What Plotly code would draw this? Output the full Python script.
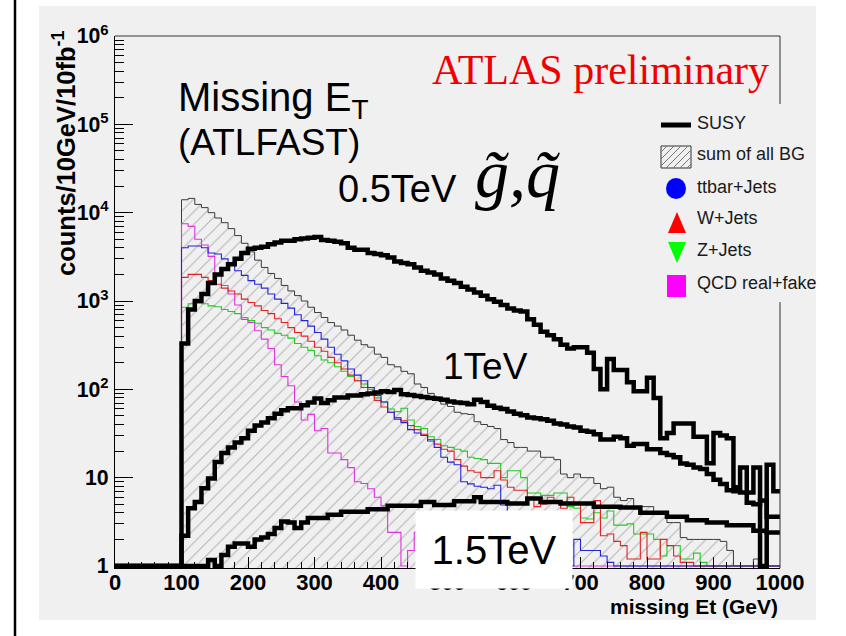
import numpy as np
import plotly.graph_objects as go

# ---------------- data (10 GeV bins, 0..1000 GeV) ----------------
bin_edges = list(range(0, 1001, 10))
x_tick_values = list(range(0, 1001, 100))

susy_05 = [0] * 10 + [
    330, 800, 1000, 1200, 1600, 2000, 2300, 2600, 3000, 3500,
    3900, 4000, 4100, 4400, 4600, 4800, 4800, 5000, 5100, 5200,
    5300, 4900, 4800, 4700, 4500, 4000, 3800, 3800, 3500, 3400,
    3300, 3100, 2800, 2700, 2600, 2400, 2200, 2100, 2000, 1800,
    1700, 1600, 1450, 1350, 1250, 1150, 1050, 980, 900, 820,
    780, 760, 620, 540, 450, 410, 370, 320, 290, 300,
    300, 260, 170, 100, 220, 165, 165, 120, 95, 95,
    135, 80, 28, 32, 41, 41, 41, 29, 29, 14.6,
    32, 30, 28, 7.8, 13, 6.8, 13, 0, 14, 7]

susy_1 = [0] * 10 + [
    2.2, 4.5, 5.3, 7.6, 9.8, 15, 19, 22, 25, 28,
    34, 39, 42, 47, 53, 58, 61, 61, 66, 71,
    79, 70, 75, 81, 81, 85, 85, 88, 90, 92,
    95, 93, 98, 88, 86, 84, 82, 80, 78, 76,
    73, 71, 70, 68, 76, 72, 65, 62, 60, 56,
    53, 51, 48, 47, 46, 44, 41, 40, 38, 37,
    34, 33, 31, 27, 27, 29, 28, 23, 24, 24,
    21, 21, 19, 18, 17, 14.5, 14, 13, 12.5, 11,
    9.5, 8.5, 7.2, 7, 6.8, 5.2, 5.0, 5.5, 3.6, 3.6]

susy_15 = [0] * 10 + [
    0, 0, 0, 0, 1.17, 0, 1.33, 1.65, 1.8, 1.8,
    1.65, 2.0, 2.1, 2.3, 2.7, 3.2, 3.1, 2.7, 3.1, 3.5,
    3.5, 3.5, 3.8, 3.8, 4.1, 4.1, 4.1, 4.1, 4.4, 4.4,
    4.4, 4.8, 4.8, 4.8, 4.8, 4.8, 5.3, 5.3, 4.9, 4.9,
    4.9, 5.4, 5.4, 5.4, 6.0, 5.3, 5.3, 5.3, 5.3, 5.1,
    5.1, 5.1, 5.8, 5.8, 5.3, 5.3, 5.3, 5.1, 5.1, 5.1,
    5.1, 5.1, 4.7, 4.7, 4.7, 4.7, 4.6, 4.6, 4.6, 4.0,
    4.0, 4.0, 4.0, 3.6, 3.6, 3.6, 3.3, 3.3, 3.3, 3.1,
    3.1, 3.1, 2.9, 2.9, 2.9, 2.9, 2.5, 2.5, 2.4, 2.4]

bg_sum = [0] * 10 + [
    14000, 14500, 12400, 11400, 10000, 8700, 7700, 6600, 5500, 4500,
    3600, 2900, 2400, 2050, 1800, 1500, 1300, 1150, 1000, 850,
    740, 650, 570, 520, 470, 410, 360, 320, 300, 250,
    230, 190, 180, 160, 150, 115, 105, 90, 82, 68,
    64, 55, 53, 52, 43, 40, 38, 36, 27, 25,
    22, 22, 20, 20, 17, 17, 16, 11, 10, 11,
    10, 10, 8.6, 7.5, 7.8, 6, 5.5, 5.8, 4.7, 4.7,
    4.7, 4, 4, 3.1, 3.1, 2.1, 2.0, 2.0, 2.0, 2.0,
    2.0, 1.9, 1.5, 0, 0, 0, 1.2, 0, 0, 0]

ttbar = [0] * 10 + [
    4000, 4200, 4200, 4000, 3500, 3400, 3000, 2700, 2200, 1950,
    1700, 1550, 1400, 1200, 1050, 940, 830, 700, 600, 520,
    440, 370, 300, 250, 210, 170, 145, 125, 105, 85,
    72, 55, 46, 42, 35, 32, 30, 26, 22, 17,
    15, 14, 9, 8.5, 8, 7.8, 7.5, 8.2, 4.9, 0,
    3, 2, 0, 1.5, 0, 1.2, 0, 0, 0, 2,
    1.5, 1.5, 1.5, 1.3, 1.1, 0, 0, 0, 0, 0,
    0, 0, 0, 0, 0, 0, 0, 0, 0, 0,
    0, 0, 0, 0, 0, 0, 0, 0, 0, 0]

w_jets = [0] * 10 + [
    1850, 2000, 2000, 1850, 1700, 1550, 1400, 1300, 1200, 1050,
    960, 880, 780, 720, 630, 570, 500, 440, 400, 350,
    300, 270, 230, 200, 170, 145, 125, 105, 92, 75,
    63, 55, 48, 44, 39, 35, 31, 27, 24, 21,
    20, 16, 13.5, 12, 11.5, 10, 10, 12, 9.4, 7.8,
    7.2, 7.2, 6, 4.7, 5, 6, 5.5, 4.5, 6, 5,
    3.1, 3.1, 5.5, 2.2, 2.3, 1.9, 1.7, 1.2, 1.2, 2.4,
    1.2, 1.2, 2, 1.7, 1.3, 1.1, 1.1, 0, 0, 0,
    0, 0, 0, 0, 0, 0, 0, 0, 0, 0]

z_jets = [0] * 10 + [
    850, 930, 950, 930, 880, 860, 800, 760, 720, 650,
    600, 560, 500, 470, 430, 410, 380, 330, 300, 275,
    240, 215, 200, 180, 160, 140, 125, 115, 100, 80,
    72, 60, 56, 61, 45, 38, 36, 29, 27, 23,
    22, 21, 20, 17, 16.5, 16, 14.5, 14.5, 10, 12,
    12, 10, 6.7, 6.7, 6.3, 6.3, 6.7, 6.7, 4.7, 4.5,
    3.5, 3.4, 4, 3.5, 4.2, 2.9, 2.9, 3.0, 2.3, 2.3,
    2.3, 2, 1.3, 1.7, 1.7, 1.2, 1.2, 1.4, 1.1, 0,
    0, 0, 0, 0, 0, 0, 0, 0, 0, 0]

qcd = [0] * 10 + [
    7500, 7000, 5000, 4300, 3200, 2000, 1500, 1200, 900, 620,
    570, 460, 370, 290, 190, 140, 110, 72, 45, 52,
    34, 36, 19, 19, 16, 13, 9, 8.6, 7.5, 6,
    4.8, 2.4, 2.4, 0, 1.5, 2.4, 1.3, 1.5, 0, 1.2] + [0] * 50

legend_labels = ["SUSY", "sum of all BG", "ttbar+Jets", "W+Jets", "Z+Jets", "QCD real+fake"]

# ---------------- style ----------------
SANS = "Liberation Sans, Arial, sans-serif"
SERIF = "Liberation Serif, Times New Roman, serif"
CANVAS = "#f0f0f0"

W, H = 846, 636
ML, MR, MT, MB = 115, 66, 36, 68
PW, PH = W - ML - MR, H - MT - MB


def px2x(px):
    return (px - ML) / PW


def py2y(py):
    return (H - MB - py) / PH


FLOOR = 1.0


def steps(vals):
    v = np.asarray(vals, dtype=float)
    v = np.where(v > 0, v, FLOOR)
    return np.append(v, v[-1])


fig = go.Figure()

fig.add_trace(go.Scatter(
    x=bin_edges, y=steps(bg_sum), mode="lines",
    line=dict(shape="hv", color="#3a3a3a", width=1),
    fill="tozeroy", fillcolor=CANVAS,
    fillpattern=dict(shape="/", size=9, solidity=0.12, fgcolor="#7a7a7a", bgcolor=CANVAS),
    hoverinfo="skip", showlegend=False))

for vals, col in [(qcd, "#dd33dd"), (z_jets, "#22cc22"), (w_jets, "#e02424"), (ttbar, "#2424d8")]:
    fig.add_trace(go.Scatter(
        x=bin_edges, y=steps(vals), mode="lines",
        line=dict(shape="hv", color=col, width=1.1),
        hoverinfo="skip", showlegend=False))

for vals in [susy_15, susy_1, susy_05]:
    fig.add_trace(go.Scatter(
        x=bin_edges, y=steps(vals), mode="lines",
        line=dict(shape="hv", color="black", width=4.5),
        hoverinfo="skip", showlegend=False))

shapes = []
# page / canvas decoration
shapes.append(dict(type="rect", xref="paper", yref="paper",
                   x0=px2x(39), x1=px2x(816), y0=py2y(620), y1=py2y(6),
                   fillcolor=CANVAS, line=dict(width=0), layer="below"))
shapes.append(dict(type="line", xref="paper", yref="paper",
                   x0=px2x(15), x1=px2x(15), y0=py2y(636), y1=py2y(0),
                   line=dict(color="black", width=2.5), layer="above"))
# frame (top and right)
shapes.append(dict(type="line", xref="paper", yref="paper", x0=0, x1=1, y0=1, y1=1,
                   line=dict(color="#333", width=1), layer="above"))
shapes.append(dict(type="line", xref="paper", yref="paper", x0=1, x1=1, y0=1, y1=py2y(104),
                   line=dict(color="#333", width=1), layer="above"))
shapes.append(dict(type="line", xref="paper", yref="paper", x0=1, x1=1, y0=py2y(302), y1=0,
                   line=dict(color="#333", width=1), layer="above"))

# legend symbols
shapes.append(dict(type="line", xref="paper", yref="paper",
                   x0=px2x(661), x1=px2x(691), y0=py2y(125), y1=py2y(125),
                   line=dict(color="black", width=5), layer="above"))
bx0, bx1, by0, by1 = 661, 691, 146, 168
shapes.append(dict(type="rect", xref="paper", yref="paper",
                   x0=px2x(bx0), x1=px2x(bx1), y0=py2y(by1), y1=py2y(by0),
                   fillcolor=CANVAS, line=dict(color="#333", width=1), layer="above"))
hatch = []
for k in range(bx0 + by0 + 6, bx1 + by1, 7):
    xa = max(bx0, k - by1)
    xb = min(bx1, k - by0)
    if xb > xa:
        hatch.append("M%.5f,%.5f L%.5f,%.5f" % (px2x(xa), py2y(k - xa), px2x(xb), py2y(k - xb)))
shapes.append(dict(type="path", xref="paper", yref="paper", path=" ".join(hatch),
                   line=dict(color="#777", width=1), layer="above"))
shapes.append(dict(type="circle", xref="paper", yref="paper",
                   x0=px2x(666), x1=px2x(686), y0=py2y(199), y1=py2y(178),
                   fillcolor="#0000ff", line=dict(width=0), layer="above"))
shapes.append(dict(type="path", xref="paper", yref="paper",
                   path="M%.5f,%.5f L%.5f,%.5f L%.5f,%.5f Z" % (
                       px2x(668), py2y(233), px2x(686), py2y(233), px2x(677), py2y(212)),
                   fillcolor="#ff0000", line=dict(width=0), layer="above"))
shapes.append(dict(type="path", xref="paper", yref="paper",
                   path="M%.5f,%.5f L%.5f,%.5f L%.5f,%.5f Z" % (
                       px2x(668), py2y(242), px2x(686), py2y(242), px2x(677), py2y(263)),
                   fillcolor="#00ff00", line=dict(width=0), layer="above"))
shapes.append(dict(type="rect", xref="paper", yref="paper",
                   x0=px2x(667), x1=px2x(686), y0=py2y(297), y1=py2y(275),
                   fillcolor="#ff00ff", line=dict(width=0), layer="above"))

annotations = []
for lab, row in zip(legend_labels, [123, 154, 187, 218, 250, 283]):
    annotations.append(dict(text=lab, xref="paper", yref="paper", x=px2x(695), y=py2y(row),
                            xanchor="left", yanchor="middle", showarrow=False,
                            font=dict(family=SANS, size=18, color="#1a1a1a")))

annotations += [
    dict(text="ATLAS preliminary", x=px2x(600), y=py2y(70), font=dict(family=SERIF, size=42, color="#f00000")),
    dict(text="Missing E<sub>T</sub>", x=px2x(176), y=py2y(100), xanchor="left", font=dict(family=SANS, size=40, color="black")),
    dict(text="(ATLFAST)", x=px2x(176), y=py2y(142), xanchor="left", font=dict(family=SANS, size=37, color="black")),
    dict(text="0.5TeV", x=px2x(336), y=py2y(189), xanchor="left", font=dict(family=SANS, size=38, color="black")),
    dict(text="<i>g\u0303,q\u0303</i>", x=px2x(473), y=py2y(174), xanchor="left", font=dict(family=SERIF, size=68, color="black")),
    dict(text="1TeV", x=px2x(441), y=py2y(366), xanchor="left", font=dict(family=SANS, size=37, color="black")),
    dict(text="1.5TeV", x=px2x(494), y=py2y(549.5), width=154, height=75, bgcolor="white",
         font=dict(family=SANS, size=40, color="black")),
    dict(text="missing Et (GeV)", x=px2x(780), y=py2y(606), xanchor="right",
         font=dict(family=SANS, size=21, color="black", weight="bold")),
    dict(text="counts/10GeV/10fb<sup>-1</sup>", x=px2x(64), y=py2y(28), xanchor="center", yanchor="top",
         textangle=-90, font=dict(family=SANS, size=25.5, color="black", weight="bold")),
]
for a in annotations:
    a.setdefault("xref", "paper")
    a.setdefault("yref", "paper")
    a.setdefault("showarrow", False)
    a.setdefault("xanchor", "center")
    a.setdefault("yanchor", "middle")

fig.update_layout(
    width=W, height=H,
    margin=dict(l=ML, r=MR, t=MT, b=MB, pad=0),
    paper_bgcolor="white", plot_bgcolor=CANVAS,
    showlegend=False,
    shapes=shapes, annotations=annotations,
    xaxis=dict(range=[0, 1000], tickmode="array", tickvals=x_tick_values,
               ticktext=[str(v) for v in x_tick_values],
               ticks="inside", ticklen=11, tickwidth=1, tickcolor="black",
               showline=True, linecolor="black", linewidth=1,
               showgrid=False, zeroline=False, ticklabelstandoff=-5,
               minor=dict(ticks="inside", ticklen=6, dtick=20, tickcolor="black", showgrid=False),
               tickfont=dict(family=SANS, size=22, color="black", weight="bold")),
    yaxis=dict(type="log", range=[-0.0226, 6], dtick=1, exponentformat="power",
               ticks="inside", ticklen=18, tickwidth=1, tickcolor="black",
               showline=True, linecolor="black", linewidth=1,
               showgrid=False, zeroline=False, ticklabelstandoff=2,
               minor=dict(ticks="inside", ticklen=9, dtick="D1", tickcolor="black", showgrid=False),
               tickfont=dict(family=SANS, size=17, color="black", weight="bold")),
)

fig.write_html("out.html")
